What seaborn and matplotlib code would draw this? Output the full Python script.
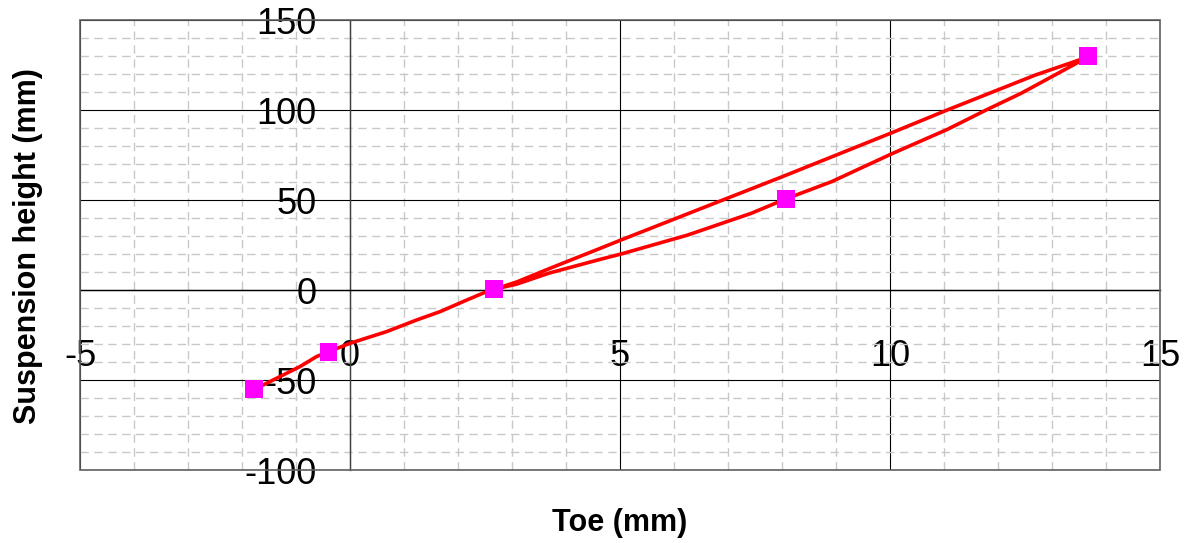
import matplotlib
matplotlib.use("Agg")
import matplotlib.pyplot as plt
import seaborn as sns
import pandas as pd
import numpy as np
from matplotlib.patches import Rectangle
from matplotlib.ticker import MultipleLocator

# ---- data ----
# common start (bump rising from full rebound to design)
start_toe = [-1.78, -1.61, -0.93, -0.62, -0.40, 0.0, 0.68, 1.23, 1.67, 2.16, 2.46, 2.67]
start_height = [-55.0, -52.8, -42.6, -37.0, -34.3, -29.6, -23.1, -16.7, -12.0, -5.6, -1.8, 0.4]
# lower branch (design -> full bump)
lower_toe = [3.09, 3.70, 4.63, 5.02, 6.25, 7.43, 8.07, 8.92, 10.02, 11.06, 11.78, 12.43, 13.67]
lower_height = [3.3, 9.5, 17.0, 20.0, 30.5, 42.6, 50.6, 60.2, 75.5, 89.2, 100.0, 109.3, 129.5]
# upper branch (full bump -> design)
upper_toe = [12.69, 11.06, 10.02, 8.01, 6.87, 5.02, 4.63, 3.70, 3.09, 2.67]
upper_height = [119.4, 100.0, 87.2, 63.0, 49.6, 27.8, 23.1, 12.0, 4.5, 0.4]
# marker points
marker_toe = [-1.78, -0.40, 2.67, 8.07, 13.67]
marker_height = [-55.0, -34.3, 0.4, 50.6, 130.0]

x_ticks = [-5, 0, 5, 10, 15]
y_ticks = [-100, -50, 0, 50, 100, 150]

sns.set_theme(style="white")
plt.rcParams['font.family'] = ['Liberation Sans', 'DejaVu Sans']
plt.rcParams['text.color'] = 'black'
plt.rcParams['xtick.color'] = 'black'
plt.rcParams['ytick.color'] = 'black'

curve = pd.DataFrame({
    "toe": start_toe + lower_toe + upper_toe,
    "height": start_height + lower_height + upper_height,
})
marks = pd.DataFrame({"toe": marker_toe, "height": marker_height})

fig = plt.figure(figsize=(11.93, 5.43), dpi=100)
ax = fig.add_axes([80 / 1193, 1 - 470 / 543, 1080 / 1193, 450 / 543])

# grids
ax.xaxis.set_minor_locator(MultipleLocator(1))
ax.yaxis.set_minor_locator(MultipleLocator(10))
ax.set_xticks(x_ticks)
ax.set_yticks(y_ticks)
ax.grid(which="minor", color="#c8c8c8", linestyle=(0, (6, 4)), linewidth=1.0, zorder=0)
ax.grid(which="major", color="#000000", linestyle="-", linewidth=0.8, zorder=1)
ax.set_axisbelow(True)

sns.lineplot(data=curve, x="toe", y="height", sort=False, estimator=None,
             color="#ff0000", linewidth=2.6, ax=ax, zorder=3)
sns.scatterplot(data=marks, x="toe", y="height", marker="s", s=160,
                color="#ff00ff", edgecolor="none", ax=ax, zorder=4)

ax.set_xlim(-5, 15)
ax.set_ylim(-100, 150)

# spines crossing at origin
for s in ["top", "right"]:
    ax.spines[s].set_visible(False)
ax.spines["left"].set_position(("data", 0))
ax.spines["bottom"].set_position(("data", 0))
ax.spines["left"].set_color("#404040")
ax.spines["bottom"].set_color("#000000")
ax.spines["left"].set_linewidth(1.0)
ax.spines["bottom"].set_linewidth(1.0)
ax.add_patch(Rectangle((0, 0), 1, 1, transform=ax.transAxes, fill=False,
                       edgecolor="#606060", linewidth=1.2, zorder=5, clip_on=False))

ax.tick_params(axis="x", which="major", direction="out", length=9, width=1,
               pad=26, labelsize=26, color="#404040", labelcolor="black")
ax.tick_params(axis="y", which="major", direction="out", length=9, width=1,
               pad=15, labelsize=26, color="#404040", labelcolor="black")
ax.tick_params(which="minor", length=0)
ax.set_xticklabels([str(t) for t in x_ticks])
ax.set_yticklabels([str(t) for t in y_ticks])

ax.set_xlabel("")
ax.set_ylabel("")
fig.text(620 / 1193, 1 - 523 / 543, "Toe (mm)", ha="center", va="center",
         fontsize=22, fontweight="bold", color="black")
fig.text(28 / 1193, 1 - 246 / 543, "Suspension height (mm)", ha="center", va="center",
         rotation=90, fontsize=22, fontweight="bold", color="black")

fig.savefig("out.png", dpi=100)
